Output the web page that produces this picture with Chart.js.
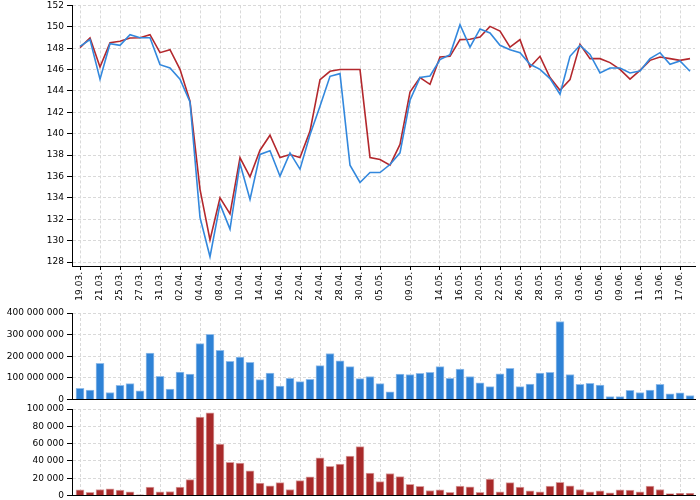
<!DOCTYPE html>
<html>
<head>
<meta charset="utf-8">
<script src="https://cdn.jsdelivr.net/npm/chart.js@4.4.1/dist/chart.umd.min.js"></script>
<style>
    html, body { margin: 0; padding: 0; background: #fff; overflow: hidden; }
    .box { position: absolute; left: 0; width: 700px; }
</style>
</head>
<body>
<div class="box" style="top:-3px;height:305px"><canvas id="priceChart" width="700" height="305"></canvas></div>
<div class="box" style="top:302px;height:106px"><canvas id="blueVolChart" width="700" height="106"></canvas></div>
<div class="box" style="top:400px;height:104px"><canvas id="redVolChart" width="700" height="104"></canvas></div>
<script>
// trading days (one point each)
var dates = [
    "19.03.", "20.03.", "21.03.", "24.03.", "25.03.", "26.03.", "27.03.", "28.03.", "31.03.",
    "01.04.", "02.04.", "03.04.", "04.04.", "07.04.", "08.04.", "09.04.", "10.04.", "11.04.", "14.04.",
    "15.04.", "16.04.", "17.04.", "22.04.", "23.04.", "24.04.", "25.04.", "28.04.", "29.04.", "30.04.",
    "02.05.", "05.05.", "06.05.", "07.05.", "09.05.", "12.05.", "13.05.", "14.05.", "15.05.", "16.05.",
    "19.05.", "20.05.", "21.05.", "22.05.", "23.05.", "26.05.", "27.05.", "28.05.", "29.05.", "30.05.",
    "02.06.", "03.06.", "04.06.", "05.06.", "06.06.", "09.06.", "10.06.", "11.06.", "12.06.", "13.06.",
    "16.06.", "17.06.", "18.06."
];

// dates that get a label on the x axis
var tickLabels = [
    "19.03.", "21.03.", "25.03.", "27.03.", "31.03.", "02.04.", "04.04.", "08.04.", "10.04.", "14.04.",
    "16.04.", "22.04.", "24.04.", "28.04.", "30.04.", "05.05.", "09.05.", "14.05.", "16.05.", "20.05.",
    "22.05.", "26.05.", "28.05.", "30.05.", "03.06.", "05.06.", "09.06.", "11.06.", "13.06.", "17.06."
];

var blueClose = [
    148.17, 148.8, 145.1, 148.42, 148.27, 149.26, 148.98, 148.98, 146.46, 146.15,
    145.1, 142.97, 132.18, 128.5, 133.42, 131.08, 137.22, 133.86, 138.06, 138.4,
    136.03, 138.21, 136.69, 139.9, 142.57, 145.37, 145.62, 137.06, 135.44, 136.37,
    136.37, 137.12, 138.21, 143.13, 145.25, 145.4, 146.93, 147.4, 150.2, 148.1,
    149.8, 149.43, 148.27, 147.86, 147.58, 146.49, 146.02, 145.16, 143.69, 147.24,
    148.27, 147.42, 145.68, 146.15, 146.15, 145.68, 145.87, 147.02, 147.58, 146.49,
    146.8, 145.84
];

var redClose = [
    148.05, 148.95, 146.24, 148.5, 148.64, 148.95, 148.98, 149.26, 147.58, 147.86,
    146.02, 143.04, 134.8, 130.06, 134.01, 132.5, 137.75, 135.97, 138.46, 139.86,
    137.78, 138.06, 137.78, 140.24, 145.06, 145.84, 146.0, 146.0, 146.0, 137.78,
    137.59, 137.06, 139.0, 143.9, 145.25, 144.62, 147.17, 147.24, 148.8, 148.83,
    149.04, 150.04, 149.6, 148.1, 148.8, 146.24, 147.24, 145.25, 144.06, 145.06,
    148.36, 147.02, 147.02, 146.65, 146.02, 145.1, 145.93, 146.86, 147.17, 147.02,
    146.86, 147.02
];

var blueVolume = [
    51800000, 43900000, 168000000, 33000000, 65900000, 73700000, 40800000, 214900000, 108000000, 48600000,
    127000000, 117600000, 258800000, 301000000, 227500000, 177000000, 196000000, 172500000, 92500000, 122000000,
    62700000, 98800000, 83000000, 94000000, 156900000, 213000000, 178800000, 152000000, 97000000, 106700000,
    73700000, 36000000, 117600000, 116000000, 120800000, 125500000, 152000000, 98800000, 141000000, 106700000,
    76900000, 59600000, 119000000, 144000000, 59600000, 72000000, 122000000, 125500000, 360800000, 116000000,
    70600000, 75300000, 67500000, 14100000, 14100000, 42400000, 33000000, 43900000, 70600000, 26700000,
    31400000, 18800000
];

var redVolume = [
    6700, 3900, 7060, 7800, 6300, 4300, 800, 9800, 4300, 4700,
    9800, 18400, 90600, 95700, 59600, 38400, 37600, 28600, 14500, 11400,
    14900, 7060, 17300, 21600, 43500, 33700, 36500, 45500, 56500, 25900,
    16100, 25500, 22000, 12900, 10600, 5900, 6700, 3900, 10900, 10200,
    3900, 19200, 4300, 14900, 9800, 5500, 4300, 10900, 15300, 11400,
    7060, 4300, 5500, 3100, 6700, 6300, 4300, 10900, 7060, 2400,
    2700, 2700
];

var tickIndexes = tickLabels.map(d => dates.indexOf(d));

const tickFont = { family: "DejaVu Sans", size: 9 };
const gridColor = "#d9d9d9";

function toPoints(values) {
    return values.map((v, i) => ({ x: i, y: v }));
}

function spaced(value) {
    return value.toString().replace(/\B(?=(\d{3})+(?!\d))/g, " ");
}

function xAxis(showLabels, height) {
    return {
        type: 'linear',
        min: -0.8,
        max: 61.5,
        offset: false,
        afterBuildTicks: (scale) => {
            scale.ticks = tickIndexes.map(i => ({ value: i }));
        },
        afterFit: (scale) => { scale.height = height; },
        ticks: {
            display: showLabels,
            autoSkip: false,
            maxRotation: 90,
            minRotation: 90,
            padding: 2,
            color: "#000",
            font: tickFont,
            callback: (value) => dates[value]
        },
        grid: {
            color: gridColor,
            offset: false,
            drawTicks: showLabels,
            tickLength: 4,
            tickColor: "#000",
            tickBorderDash: [],
            tickWidth: 1
        },
        border: { display: true, color: "#000", width: 1, dash: [3, 2] }
    };
}

function yAxis(min, max, step, formatter) {
    return {
        min: min,
        max: max,
        afterFit: (scale) => { scale.width = 72; },
        ticks: {
            stepSize: step,
            includeBounds: false,
            padding: 3,
            color: "#000",
            font: tickFont,
            callback: formatter
        },
        grid: {
            color: gridColor,
            tickLength: 5,
            tickColor: "#000",
            tickBorderDash: [],
            tickWidth: 1
        },
        border: { display: true, color: "#000", width: 1, dash: [3, 2] }
    };
}

const basePlugins = {
    legend: { display: false },
    tooltip: { enabled: false }
};

// Price lines
var priceChart = new Chart(document.getElementById('priceChart'), {
    type: 'line',
    data: {
        datasets: [
            {
                label: 'Blue',
                data: toPoints(blueClose),
                borderColor: "#3388dd",
                borderWidth: 1.6,
                pointRadius: 0,
                tension: 0,
                fill: false
            },
            {
                label: 'Red',
                data: toPoints(redClose),
                borderColor: "#b3282d",
                borderWidth: 1.6,
                pointRadius: 0,
                tension: 0,
                fill: false
            }
        ]
    },
    options: {
        responsive: false,
        animation: false,
        layout: { padding: { top: 5, right: 5, left: 0, bottom: 0 } },
        scales: {
            x: xAxis(true, 36),
            y: yAxis(127.63, 152, 2, (v) => v)
        },
        plugins: basePlugins
    }
});

// Blue volume
var blueVolChart = new Chart(document.getElementById('blueVolChart'), {
    type: 'bar',
    data: {
        datasets: [
            {
                label: 'Blue volume',
                data: toPoints(blueVolume),
                backgroundColor: "#2e82d6",
                borderColor: "#93bde9",
                borderWidth: 1,
                barThickness: 8
            }
        ]
    },
    options: {
        responsive: false,
        animation: false,
        layout: { padding: { top: 11, right: 5, left: 0, bottom: 0 } },
        scales: {
            x: xAxis(false, 2),
            y: yAxis(0, 400000000, 100000000, (v) => spaced(v))
        },
        plugins: basePlugins
    }
});

// Red volume
var redVolChart = new Chart(document.getElementById('redVolChart'), {
    type: 'bar',
    data: {
        datasets: [
            {
                label: 'Red volume',
                data: toPoints(redVolume),
                backgroundColor: "#a82a2a",
                borderColor: "#d9a0a0",
                borderWidth: 1,
                barThickness: 8
            }
        ]
    },
    options: {
        responsive: false,
        animation: false,
        layout: { padding: { top: 9, right: 5, left: 0, bottom: 0 } },
        scales: {
            x: xAxis(false, 6),
            y: yAxis(0, 100000, 20000, (v) => spaced(v))
        },
        plugins: basePlugins
    }
});
</script>
</body>
</html>
